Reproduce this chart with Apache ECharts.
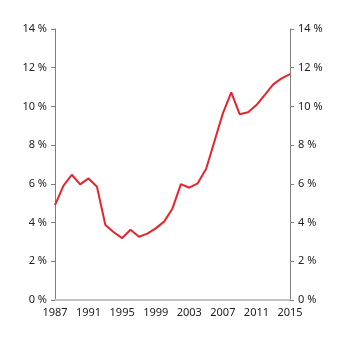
<!DOCTYPE html>
<html>
<head>
<meta charset="utf-8">
<script src="https://cdn.jsdelivr.net/npm/echarts@6/dist/echarts.min.js"></script>
<style>
html,body{margin:0;padding:0;background:#fff;}
#chart{width:346px;height:341px;}
</style>
</head>
<body>
<div id="chart"></div>
<script>
// Years on the horizontal axis
var years = [];
for (var y = 1987; y <= 2015; y++) years.push(String(y));

// Share, per cent
var values = [4.9, 5.9, 6.47, 5.97, 6.28, 5.85, 3.87, 3.5, 3.2, 3.63, 3.27, 3.43, 3.7, 4.05,
              4.73, 5.99, 5.8, 6.03, 6.77, 8.2, 9.64, 10.73, 9.6, 9.7, 10.07, 10.6, 11.14, 11.45, 11.67];

var yTicks = { min: 0, max: 14, interval: 2 };

var chart = echarts.init(document.getElementById('chart'));
var font = 'Noto Sans';

function yAxis(pos) {
  return {
    type: 'value', position: pos,
    min: yTicks.min, max: yTicks.max, interval: yTicks.interval,
    axisLine: { show: true, lineStyle: { color: '#7f7f7f', width: 1 } },
    axisTick: { show: true, length: 4, lineStyle: { color: '#7f7f7f' } },
    splitLine: { show: false },
    axisLabel: { formatter: '{value} %', color: '#222', fontFamily: font, fontSize: 11, margin: 8 }
  };
}

chart.setOption({
  animation: false,
  grid: { left: 55, right: 56, top: 29, bottom: 41, containLabel: false },
  xAxis: {
    type: 'category', data: years, boundaryGap: false,
    axisLine: { lineStyle: { color: '#c4c4c4', width: 2 } },
    axisTick: { show: false },
    axisLabel: { interval: 3, color: '#222', fontFamily: font, fontSize: 11, margin: 7 }
  },
  yAxis: [yAxis('left'), yAxis('right')],
  series: [{
    type: 'line', data: values, yAxisIndex: 0,
    showSymbol: false, symbol: 'none',
    lineStyle: { color: '#e2262d', width: 2 }
  }]
});
</script>
</body>
</html>
